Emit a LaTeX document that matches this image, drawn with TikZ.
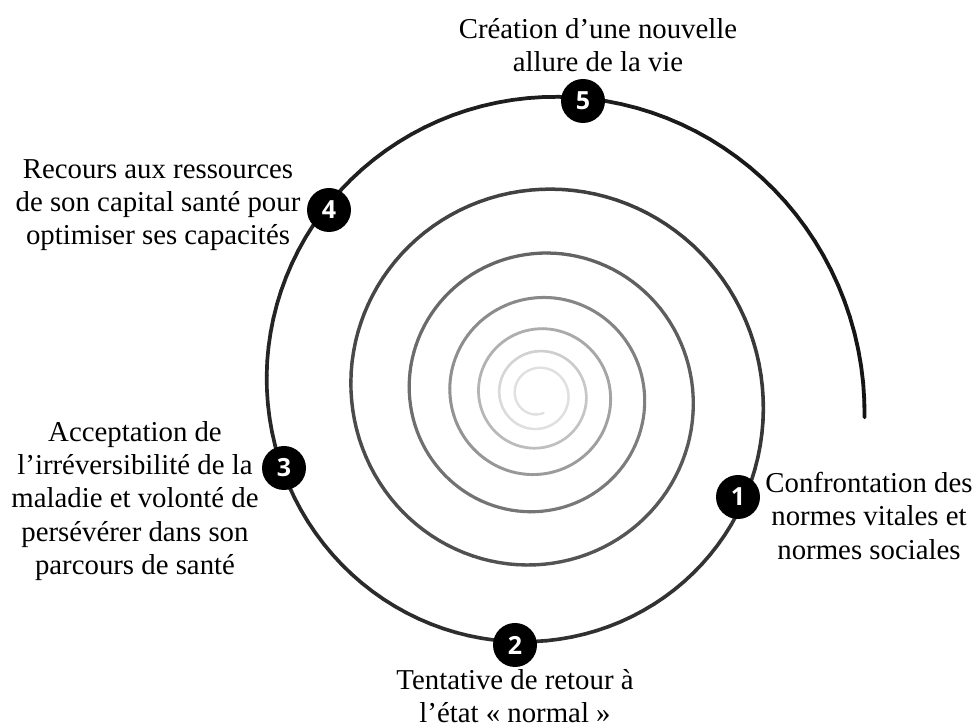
\documentclass[tikz,border=0pt]{standalone}
\usepackage{fontspec}
\setmainfont{Liberation Serif}
\newfontfamily\digitfont{Open Sans}
\begin{document}
\begin{tikzpicture}[x=0.5pt,y=-0.5pt,
  numdot/.style={circle, fill=black, minimum size=22pt, inner sep=0pt,
    text=white, font=\digitfont\bfseries\fontsize{12.5}{13}\selectfont},
  caption/.style={align=center, inner sep=0pt,
    font=\fontsize{14.4}{16.6}\selectfont}]
\useasboundingbox (0,0) rectangle (976,726);
\fill[white] (0,0) rectangle (976,726);

% logarithmic spiral, fading from dark outside to light at the centre
\def\cx{538}\def\cy{394.5}
\foreach \i in {0,...,816}{
  \pgfmathsetmacro\ta{-4+3*\i}
  \pgfmathsetmacro\tb{\ta+3}
  \pgfmathsetmacro\ua{\ta/360}
  \pgfmathsetmacro\ub{\tb/360}
  \pgfmathsetmacro\ra{326*pow(0.69,\ua)-0.022*\ua*\ua*\ua}
  \pgfmathsetmacro\rb{326*pow(0.69,\ub)-0.022*\ub*\ub*\ub}
  \pgfmathsetmacro\lw{1.9-0.12*\ua}
  \pgfmathsetmacro\pc{max(12,92-14*\ua)}
  \draw[line width=\lw pt, color=black!\pc, line cap=round]
    ({\cx+\ra*cos(\ta)},{\cy-\ra*sin(\ta)}) -- ({\cx+\rb*cos(\tb)},{\cy-\rb*sin(\tb)});
}

% numbered stages
\node[numdot] (n1) at (738,497) {1};
\node[numdot] (n2) at (515,645) {2};
\node[numdot] (n3) at (284,468) {3};
\node[numdot] (n4) at (329,210) {4};
\node[numdot] (n5) at (583,101) {5};

% stage descriptions
\node[caption] (t1) at (869,516) {Confrontation des\\normes vitales et\\normes sociales};
\node[caption] (t2) at (515,696) {Tentative de retour à\\l’état «~normal~»};
\node[caption] (t3) at (135,501) {Acceptation de\\l’irréversibilité de la\\maladie et volonté de\\persévérer dans son\\parcours de santé};
\node[caption] (t4) at (158,205) {Recours aux ressources\\de son capital santé pour\\optimiser ses capacités};
\node[caption] (t5) at (598,45) {Création d’une nouvelle\\allure de la vie};
\end{tikzpicture}
\end{document}
